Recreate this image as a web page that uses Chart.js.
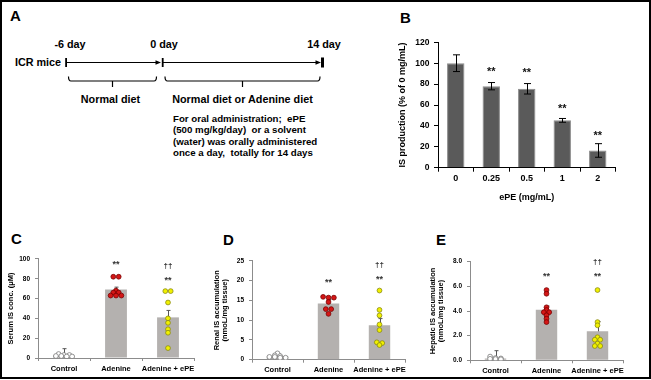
<!DOCTYPE html>
<html><head><meta charset="utf-8">
<script src="https://cdn.jsdelivr.net/npm/chart.js@4"></script>
<style>
html,body{margin:0;padding:0;background:#fff;}
#fig{position:relative;width:651px;height:380px;overflow:hidden;font-family:"Liberation Sans",Arial,sans-serif;}
#frame{position:absolute;left:0;top:0;width:647px;height:375px;border:2px solid #000;}
canvas{position:absolute;}
svg{position:absolute;left:0;top:0;}
</style></head>
<body>
<div id="fig">
<div id="frame"></div>
<svg width="651" height="380" font-family="Liberation Sans, Arial, sans-serif" font-weight="bold" fill="#000">
  <text x="10" y="21" font-size="15">A</text>
  <text x="400" y="22.7" font-size="15">B</text>
  <text x="11" y="243.5" font-size="15">C</text>
  <text x="223" y="244.5" font-size="15">D</text>
  <text x="436" y="244.5" font-size="15">E</text>
  <g font-size="10.8">
    <text x="70" y="47.5" text-anchor="middle">-6 day</text>
    <text x="164" y="47.5" text-anchor="middle">0 day</text>
    <text x="324" y="47.5" text-anchor="middle">14 day</text>
    <text x="38" y="66" text-anchor="middle">ICR mice</text>
    <text x="110.5" y="103" text-anchor="middle">Normal diet</text>
    <text x="242.5" y="103" text-anchor="middle">Normal diet or Adenine diet</text>
  </g>
  <g font-size="9.7">
    <text x="173" y="121.5">For oral administration;&#160; ePE</text>
    <text x="173" y="133">(500 mg/kg/day)&#160; or a solvent</text>
    <text x="173" y="144.5">(water) was orally administered</text>
    <text x="173" y="156">once a day,&#160; totally for 14 days</text>
  </g>
  <g stroke="#000" stroke-width="1" fill="none">
    <line x1="66" y1="62.5" x2="158" y2="62.5"/>
    <line x1="163" y1="62.5" x2="318" y2="62.5"/>
    <path d="M68.5 76.5 Q68.5 81 71 81 L154 81 Q156.5 81 156.5 76.5" stroke-width="1.2"/>
    <path d="M112.5 81 L112.5 87" stroke-width="1.2"/>
    <path d="M165 76.5 Q165 81 167.5 81 L317.5 81 Q320 81 320 76.5" stroke-width="1.2"/>
    <path d="M242.5 81 L242.5 87" stroke-width="1.2"/>
  </g>
  <rect x="65.2" y="58" width="1.8" height="9"/>
  <polygon points="161,62.5 155.5,60.3 155.5,64.7"/>
  <rect x="161.8" y="58" width="1.8" height="9"/>
  <polygon points="321,62.5 315.5,60.3 315.5,64.7"/>
  <rect x="321" y="57.5" width="3" height="10"/>
</svg>
<canvas id="cB"></canvas>
<canvas id="cC"></canvas>
<canvas id="cD"></canvas>
<canvas id="cE"></canvas>
</div>
<script>
// ---------------- DATA ----------------
const bCategories = ['0', '0.25', '0.5', '1', '2'];
const bValues = [100, 78, 75.5, 45.3, 16.5];
const bErrors = [8, 3.5, 5, 1.8, 6.5];
const bStars = [null, 94.5, 93.6, 59.4, 33.5];

const groups = ['Control', 'Adenine', 'Adenine + ePE'];

const cMeans = [2.4, 69, 41];
const cErrors = [7, 2.5, 7];
const cControl = [4, 3, 3, 2, 2, 1.5, 1.5];
const cAdenine = [82, 82, 68, 66, 66, 63, 63, 63];
const cEpe = [67.5, 67.5, 56, 40, 35.5, 29, 25.5, 10];
const cStars = [null, 97, 80.5];
const cDaggers = [null, null, 93.5];

const dMeans = [0.9, 14.2, 8.7];
const dErrors = [0.6, 1.0, 1.7];
const dControl = [1.6, 1.1, 0.9, 0.7, 0.7, 0.5, 0.5];
const dAdenine = [15.9, 15.7, 15.7, 14.6, 12.8, 12.8, 11.6];
const dEpe = [17.5, 12.6, 11.2, 8.9, 7.5, 4.4, 4.2, 3.7];
const dStars = [null, 20.3, 21];
const dDaggers = [null, null, 23.9];

const eMeans = [0.15, 4.1, 2.35];
const eErrors = [0.63, 0.3, 0.8];
const eControl = [0.3, 0.18, 0.15, 0.12, 0.1, 0.08];
const eAdenine = [5.7, 5.4, 4.3, 4.08, 3.9, 3.9, 3.65, 3.37, 3.1];
const eEpe = [5.7, 3.1, 2.84, 1.87, 1.67, 1.67, 1.35, 1.16, 1.16];
const eStars = [null, 7.0, 7.0];
const eDaggers = [null, null, 7.95];

// ---------------- HELPERS ----------------
const FAM = '"Liberation Sans", Arial, sans-serif';
Chart.defaults.font.family = FAM;

function mount(id, s) {
  const c = document.getElementById(id);
  c.width = s.R - s.L; c.height = s.B - s.T;
  c.style.left = s.L + 'px'; c.style.top = s.T + 'px';
  c.style.width = (s.R - s.L) + 'px'; c.style.height = (s.B - s.T) + 'px';
  return {c, padTop: s.aT - s.T, padRight: s.R - s.aR, wy: s.aL - s.L, hx: s.B - s.aB};
}

function swarm(vals, th, dx) {
  const idx = vals.map((_, i) => i).sort((a, b) => vals[b] - vals[a]);
  const rows = []; let cur = null;
  idx.forEach(i => {
    if (cur && vals[cur[0]] - vals[i] <= th) cur.push(i);
    else { cur = [i]; rows.push(cur); }
  });
  const out = [];
  rows.forEach(r => r.forEach((i, k) => out.push({y: vals[i], dx: (k - (r.length - 1) / 2) * dx})));
  return out;
}

function marks(cfg) {
  return {
    id: 'marks',
    afterDatasetDraw(chart, args) {
      if (args.index !== 0) return;
      const ctx = chart.ctx, y = chart.scales.y, meta = chart.getDatasetMeta(0);
      ctx.save();
      ctx.strokeStyle = cfg.errColor; ctx.lineWidth = 1;
      meta.data.forEach((bar, i) => {
        const x = Math.round(bar.x) + 0.5;
        const top = y.getPixelForValue(cfg.means[i] + cfg.err[i]);
        const from = cfg.both ? y.getPixelForValue(cfg.means[i] - cfg.err[i]) : y.getPixelForValue(cfg.means[i]);
        ctx.beginPath();
        ctx.moveTo(x, from); ctx.lineTo(x, top);
        ctx.moveTo(x - cfg.cap, top); ctx.lineTo(x + cfg.cap, top);
        if (cfg.both) { ctx.moveTo(x - cfg.cap, from); ctx.lineTo(x + cfg.cap, from); }
        ctx.stroke();
      });
      ctx.restore();
    },
    afterDatasetsDraw(chart) {
      const ctx = chart.ctx, y = chart.scales.y, meta = chart.getDatasetMeta(0);
      ctx.save();
      ctx.fillStyle = cfg.starColor; ctx.textAlign = 'center'; ctx.textBaseline = 'alphabetic';
      meta.data.forEach((bar, i) => {
        if (cfg.stars[i] != null) {
          ctx.font = 'bold ' + cfg.starSize + 'px ' + FAM;
          ctx.fillText('**', bar.x, y.getPixelForValue(cfg.stars[i]) + 0.57 * cfg.starSize);
        }
        if (cfg.daggers && cfg.daggers[i] != null) {
          ctx.font = 'bold ' + cfg.dagSize + 'px ' + FAM;
          ctx.fillText('\u2020\u2020', bar.x, y.getPixelForValue(cfg.daggers[i]) + 0.27 * cfg.dagSize);
        }
      });
      ctx.restore();
    }
  };
}

// ---------------- PANEL B ----------------
(function () {
  const s = {L: 397, T: 30, R: 630, B: 203, aL: 438, aT: 42.3, aR: 615.5, aB: 167.7};
  const m = mount('cB', s);
  new Chart(m.c, {
    type: 'bar',
    data: {labels: bCategories, datasets: [{data: bValues, backgroundColor: '#5a5a5a', borderColor: '#8a8a8a', borderWidth: 1, barPercentage: 0.49, categoryPercentage: 1}]},
    options: {
      responsive: false, animation: false, events: [],
      layout: {padding: {top: m.padTop, right: m.padRight, left: 0, bottom: 0}},
      plugins: {legend: {display: false}, tooltip: {enabled: false}},
      scales: {
        x: {
          grid: {offset: true, drawOnChartArea: false, tickLength: 4, color: '#000'},
          border: {color: '#000', width: 1},
          ticks: {color: '#000', font: {size: 9, weight: 'bold'}, padding: 1.6, maxRotation: 0},
          title: {display: true, text: 'ePE (mg/mL)', color: '#000', font: {size: 9, weight: 'bold'}, padding: 0},
          afterFit(sc) { sc.height = m.hx; }
        },
        y: {
          min: 0, max: 120,
          ticks: {stepSize: 20, color: '#000', font: {size: 8.5, weight: 'bold'}, padding: 4.5},
          grid: {drawOnChartArea: false, tickLength: 4, color: '#000'},
          border: {color: '#000', width: 1},
          title: {display: true, text: 'IS production (% of 0 mg/mL)', color: '#000', font: {size: 9, weight: 'bold'}, padding: 0},
          afterFit(sc) { sc.width = m.wy; }
        }
      }
    },
    plugins: [marks({means: bValues, err: bErrors, both: true, cap: 3.5, errColor: '#000', stars: bStars, starSize: 11, starColor: '#111'})]
  });
})();

// ---------------- PANELS C, D, E ----------------
function dotChart(id, s, o) {
  const m = mount(id, s);
  const pxCat = (s.aR - s.aL) / 3;
  const series = [o.control, o.adenine, o.epe];
  const styles = [{bg: '#ffffff', bd: '#7a7a7a'}, {bg: '#d41616', bd: '#7a0000'}, {bg: '#f0f000', bd: '#8c8c10'}];
  const dotSets = series.map((vals, g) => ({
    type: 'scatter', order: 1,
    data: swarm(vals, o.th, 5.4 / pxCat).map(p => ({x: g + p.dx, y: p.y})),
    pointRadius: 2.4, pointHoverRadius: 2.4, pointBackgroundColor: styles[g].bg, pointBorderColor: styles[g].bd, pointBorderWidth: 0.8
  }));
  const axisCol = '#8c8c8c';
  new Chart(m.c, {
    type: 'bar',
    data: {datasets: [{type: 'bar', order: 2, data: o.means.map((v, i) => ({x: i, y: v})), backgroundColor: '#b4b1af', barPercentage: 0.42, categoryPercentage: 1}].concat(dotSets)},
    options: {
      responsive: false, animation: false, events: [],
      layout: {padding: {top: m.padTop, right: m.padRight, left: 0, bottom: 0}},
      plugins: {legend: {display: false}, tooltip: {enabled: false}},
      scales: {
        x: {
          type: 'linear', min: -0.5, max: 2.5, offset: false,
          afterBuildTicks(sc) { sc.ticks = groups.map((_, i) => ({value: i})); },
          grid: {offset: true, drawOnChartArea: false, tickLength: 3, color: axisCol},
          border: {color: axisCol, width: 1},
          ticks: {color: '#000', font: {size: 7.5, weight: 'bold'}, padding: 3, maxRotation: 0, autoSkip: false,
                  callback: v => groups[v]},
          afterFit(sc) { sc.height = m.hx; }
        },
        y: {
          min: 0, max: o.yMax,
          ticks: {stepSize: o.step, color: '#000', font: {size: 6.5, weight: 'bold'}, padding: 5,
                  callback: v => o.dec ? v.toFixed(o.dec) : v},
          grid: {drawOnChartArea: false, tickLength: 3, color: axisCol},
          border: {color: axisCol, width: 1},
          title: {display: true, text: o.title, color: '#000', font: {size: 7.5, weight: 'bold', lineHeight: 1.05}, padding: 0},
          afterFit(sc) { sc.width = m.wy; }
        }
      }
    },
    plugins: [marks({means: o.means, err: o.err, both: false, cap: 2, errColor: '#555', stars: o.stars, daggers: o.daggers, starSize: 9, dagSize: 8, starColor: '#333'})]
  });
}

dotChart('cC', {L: 7, T: 250, R: 200, B: 376, aL: 38, aT: 258.3, aR: 194, aB: 358},
  {control: cControl, adenine: cAdenine, epe: cEpe, means: cMeans, err: cErrors, stars: cStars, daggers: cDaggers,
   yMax: 100, step: 20, dec: 0, th: 1.2, title: 'Serum IS conc. (\u03bcM)'});
dotChart('cD', {L: 213, T: 252, R: 411, B: 378, aL: 252, aT: 260.3, aR: 405, aB: 359.7},
  {control: dControl, adenine: dAdenine, epe: dEpe, means: dMeans, err: dErrors, stars: dStars, daggers: dDaggers,
   yMax: 25, step: 5, dec: 0, th: 0.3, title: ['Renal IS accumulation', '(nmoL/mg tissue)']});
dotChart('cE', {L: 429, T: 252, R: 630, B: 378, aL: 470, aT: 261.7, aR: 623, aB: 360.3},
  {control: eControl, adenine: eAdenine, epe: eEpe, means: eMeans, err: eErrors, stars: eStars, daggers: eDaggers,
   yMax: 8, step: 2, dec: 1, th: 0.15, title: ['Hepatic IS accumulation', '(nmoL/mg tissue)']});
</script>
</body></html>
